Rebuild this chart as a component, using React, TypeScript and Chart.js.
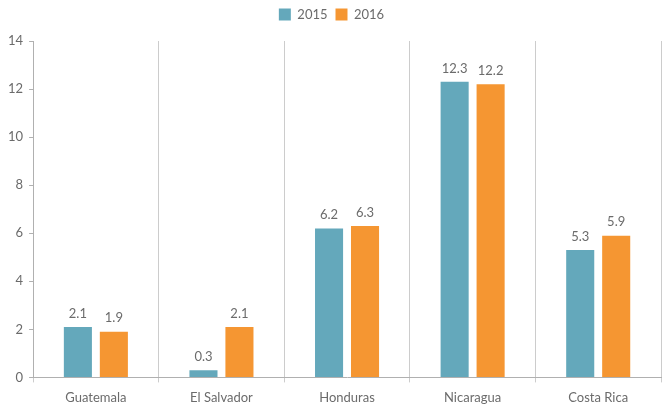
import React, { useEffect, useRef } from "react";
import { Chart, registerables } from "chart.js";

Chart.register(...registerables);

const categories = ["Guatemala", "El Salvador", "Honduras", "Nicaragua", "Costa Rica"];
const series2015 = [2.1, 0.3, 6.2, 12.3, 5.3];
const series2016 = [1.9, 2.1, 6.3, 12.2, 5.9];
const yTicks = [0, 2, 4, 6, 8, 10, 12, 14];

const FONT = "Lato";
const GREY = "#6b6b6b";

const valueLabels = {
  id: "valueLabels",
  afterDatasetsDraw(chart: any) {
    const ctx = chart.ctx;
    ctx.save();
    ctx.font = `13px ${FONT}`;
    ctx.fillStyle = GREY;
    ctx.textAlign = "center";
    ctx.textBaseline = "bottom";
    chart.data.datasets.forEach((ds: any, i: number) => {
      const meta = chart.getDatasetMeta(i);
      meta.data.forEach((bar: any, j: number) => {
        ctx.fillText(ds.data[j].toFixed(1), bar.x, bar.y - 7);
      });
    });
    ctx.restore();
  },
};

const legendMargin = {
  id: "legendMargin",
  beforeInit(chart: any) {
    const orig = chart.legend.fit;
    chart.legend.fit = function () {
      orig.call(this);
      this.height += 10;
    };
  },
};

export default function App() {
  const ref = useRef<HTMLCanvasElement>(null);
  useEffect(() => {
    document.body.style.margin = "0";
    const chart = new Chart(ref.current!, {
      type: "bar",
      data: {
        labels: categories,
        datasets: [
          { label: "2015", data: series2015, backgroundColor: "#64a8bb", barPercentage: 0.78, categoryPercentage: 0.573 },
          { label: "2016", data: series2016, backgroundColor: "#f59632", barPercentage: 0.78, categoryPercentage: 0.573 },
        ],
      },
      options: {
        animation: false,
        responsive: false,
        layout: { padding: { left: 2, right: 2, top: 0, bottom: -6 } },
        plugins: {
          legend: {
            position: "top",
            labels: { boxWidth: 12, boxHeight: 12, color: GREY, font: { family: FONT, size: 13 }, padding: 8 },
          },
          tooltip: { enabled: false },
        },
        scales: {
          x: {
            grid: { display: true, color: "#cccccc", offset: true, drawTicks: true, tickLength: 5 },
            border: { color: "#b0b0b0" },
            ticks: { color: GREY, font: { family: FONT, size: 13 }, padding: 8 },
          },
          y: {
            min: 0,
            max: 14,
            afterBuildTicks: (axis: any) => {
              axis.ticks = yTicks.map((v) => ({ value: v }));
            },
            grid: { display: true, drawOnChartArea: false, drawTicks: true, tickLength: 4, color: "#b0b0b0" },
            border: { color: "#b0b0b0" },
            ticks: { color: GREY, font: { family: FONT, size: 13 }, padding: 6 },
          },
        },
      },
      plugins: [valueLabels, legendMargin],
    });
    return () => chart.destroy();
  }, []);
  return (
    <div style={{ width: 663, height: 408 }}>
      <canvas ref={ref} width={663} height={408} />
    </div>
  );
}
